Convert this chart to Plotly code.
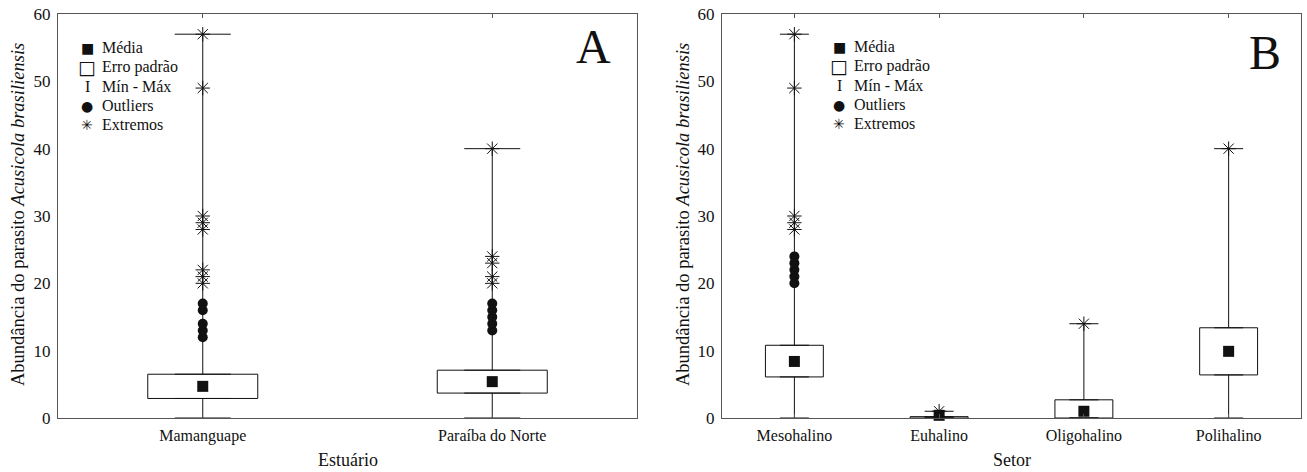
import plotly.graph_objects as go

# ---------------- Panel A data (Estuário) ----------------
a_cats = ["Mamanguape", "Paraíba do Norte"]
a_media = [4.7, 5.4]
a_ep_inf = [2.9, 3.7]
a_ep_sup = [6.5, 7.1]
a_min = [0, 0]
a_max = [57, 40]
a_out_x = ["Mamanguape", "Mamanguape", "Mamanguape", "Mamanguape", "Mamanguape",
           "Paraíba do Norte", "Paraíba do Norte", "Paraíba do Norte", "Paraíba do Norte", "Paraíba do Norte"]
a_out_y = [12, 13, 14, 16, 17, 13, 14, 15, 16, 17]
a_ext_x = ["Mamanguape", "Mamanguape", "Mamanguape", "Mamanguape", "Mamanguape", "Mamanguape",
           "Mamanguape", "Mamanguape",
           "Paraíba do Norte", "Paraíba do Norte", "Paraíba do Norte", "Paraíba do Norte", "Paraíba do Norte"]
a_ext_y = [20, 21, 22, 28, 29, 30, 49, 57, 20, 21, 23, 24, 40]

# ---------------- Panel B data (Setor) ----------------
b_cats = ["Mesohalino", "Euhalino", "Oligohalino", "Polihalino"]
b_media = [8.4, 0.4, 1.0, 9.9]
b_ep_inf = [6.1, 0.0, 0.0, 6.4]
b_ep_sup = [10.8, 0.2, 2.7, 13.4]
b_min = [0, 0, 0, 0]
b_max = [57, 1, 14, 40]
b_out_x = ["Mesohalino", "Mesohalino", "Mesohalino", "Mesohalino", "Mesohalino"]
b_out_y = [20, 21, 22, 23, 24]
b_ext_x = ["Mesohalino", "Mesohalino", "Mesohalino", "Mesohalino", "Mesohalino",
           "Euhalino", "Oligohalino", "Polihalino"]
b_ext_y = [28, 29, 30, 49, 57, 1, 14, 40]

legend_labels = ["Média", "Erro padrão", "Mín - Máx", "Outliers", "Extremos"]
legend_glyphs = ["■", "□", "I", "●", "✳"]

FONT = "Liberation Serif"
INK = "#111111"
AXC = "#555555"

fig = go.Figure()


def add_panel(cats, media, lo, hi, vmin, vmax, ox, oy, ex, ey, xa, ya, boxw, capw):
    n = len(cats)
    # lower whisker (min -> lower edge of box)
    fig.add_trace(go.Scatter(
        x=cats, y=vmin, mode="markers", xaxis=xa, yaxis=ya,
        marker=dict(size=1, color="rgba(0,0,0,0)"), showlegend=False, hoverinfo="skip",
        error_y=dict(type="data", symmetric=False,
                     array=[l - m for l, m in zip(lo, vmin)], arrayminus=[0] * n,
                     width=capw, thickness=1, color=INK)))
    # upper whisker (upper edge of box -> max)
    fig.add_trace(go.Scatter(
        x=cats, y=hi, mode="markers", xaxis=xa, yaxis=ya,
        marker=dict(size=1, color="rgba(0,0,0,0)"), showlegend=False, hoverinfo="skip",
        error_y=dict(type="data", symmetric=False,
                     array=[m - h for m, h in zip(vmax, hi)], arrayminus=[0] * n,
                     width=capw, thickness=1, color=INK)))
    # boxes (mean +/- standard error)
    fig.add_trace(go.Bar(
        x=cats, y=[h - l for h, l in zip(hi, lo)], base=lo, width=boxw,
        xaxis=xa, yaxis=ya, showlegend=False, hoverinfo="skip",
        marker=dict(color="white", line=dict(color=INK, width=1))))
    # means
    fig.add_trace(go.Scatter(
        x=cats, y=media, mode="markers", xaxis=xa, yaxis=ya, cliponaxis=False,
        marker=dict(symbol="square", size=11, color=INK), showlegend=False))
    # outliers
    fig.add_trace(go.Scatter(
        x=ox, y=oy, mode="markers", xaxis=xa, yaxis=ya, cliponaxis=False,
        marker=dict(symbol="circle", size=10, color=INK), showlegend=False))
    # extremes
    fig.add_trace(go.Scatter(
        x=ex, y=ey, mode="markers", xaxis=xa, yaxis=ya, cliponaxis=False,
        marker=dict(symbol="asterisk-open", size=12, color=INK,
                    line=dict(color=INK, width=1)), showlegend=False))


add_panel(a_cats, a_media, a_ep_inf, a_ep_sup, a_min, a_max,
          a_out_x, a_out_y, a_ext_x, a_ext_y, "x", "y", 0.38, 28)
add_panel(b_cats, b_media, b_ep_inf, b_ep_sup, b_min, b_max,
          b_out_x, b_out_y, b_ext_x, b_ext_y, "x2", "y2", 0.40, 14.5)

W, H = 1307, 472
TOP, BOT = 14, 418


def px_x(p):
    return p / W


def px_y(p):
    return (BOT - p) / (BOT - TOP)


def text_ann(text, x, y, size, angle=0, xanchor="center", font=FONT):
    return dict(text=text, textangle=angle, x=px_x(x), y=px_y(y), xref="paper", yref="paper",
                xanchor=xanchor, yanchor="middle", showarrow=False,
                font=dict(family=font, size=size, color=INK))


annotations = [
    text_ann("Abundância do parasito <i>Acusicola brasiliensis</i>", 18, 215, 18.5, -90),
    text_ann("Abundância do parasito <i>Acusicola brasiliensis</i>", 683, 215, 18.5, -90),
    text_ann("Estuário", 347.5, 460, 18),
    text_ann("Setor", 1011.5, 460, 18),
    text_ann("A", 593, 47, 48),
    text_ann("B", 1265, 53, 48),
]

glyph_fonts = ["DejaVu Sans", "DejaVu Sans", FONT, "DejaVu Sans", "DejaVu Sans"]
glyph_sizes = [14, 19, 16, 14, 14]
for sym_x, txt_x, y0 in ((87, 100, 48), (839, 852, 47)):
    for i, (lab, g) in enumerate(zip(legend_labels, legend_glyphs)):
        yy = y0 + i * 19.2
        annotations.append(text_ann(g, sym_x, yy, glyph_sizes[i], font=glyph_fonts[i]))
        annotations.append(text_ann(lab, txt_x, yy, 16, xanchor="left"))

xcommon = dict(type="category", showline=True, linecolor=AXC, linewidth=1, mirror="ticks",
               ticks="inside", ticklen=4, tickcolor=AXC, showgrid=False, zeroline=False,
               ticklabelstandoff=3,
               tickfont=dict(family=FONT, size=16, color=INK))
ycommon = dict(range=[0, 60], dtick=10, showline=True, linecolor=AXC, linewidth=1, mirror=True,
               ticks="outside", ticklen=3, tickcolor="rgba(0,0,0,0)", showgrid=False,
               zeroline=False, tickfont=dict(family=FONT, size=17, color=INK))

fig.update_layout(
    width=W, height=H,
    margin=dict(l=0, r=0, t=TOP, b=H - BOT),
    plot_bgcolor="white", paper_bgcolor="white",
    font=dict(family=FONT, size=16, color=INK),
    barmode="overlay",
    showlegend=False,
    xaxis=dict(xcommon, domain=[px_x(58), px_x(637)], range=[-0.5, 1.5], anchor="y"),
    yaxis=dict(ycommon, anchor="x"),
    xaxis2=dict(xcommon, domain=[px_x(722), px_x(1301)], range=[-0.5, 3.5], anchor="y2"),
    yaxis2=dict(ycommon, anchor="x2"),
    annotations=annotations,
)

fig.write_html("out.html")
